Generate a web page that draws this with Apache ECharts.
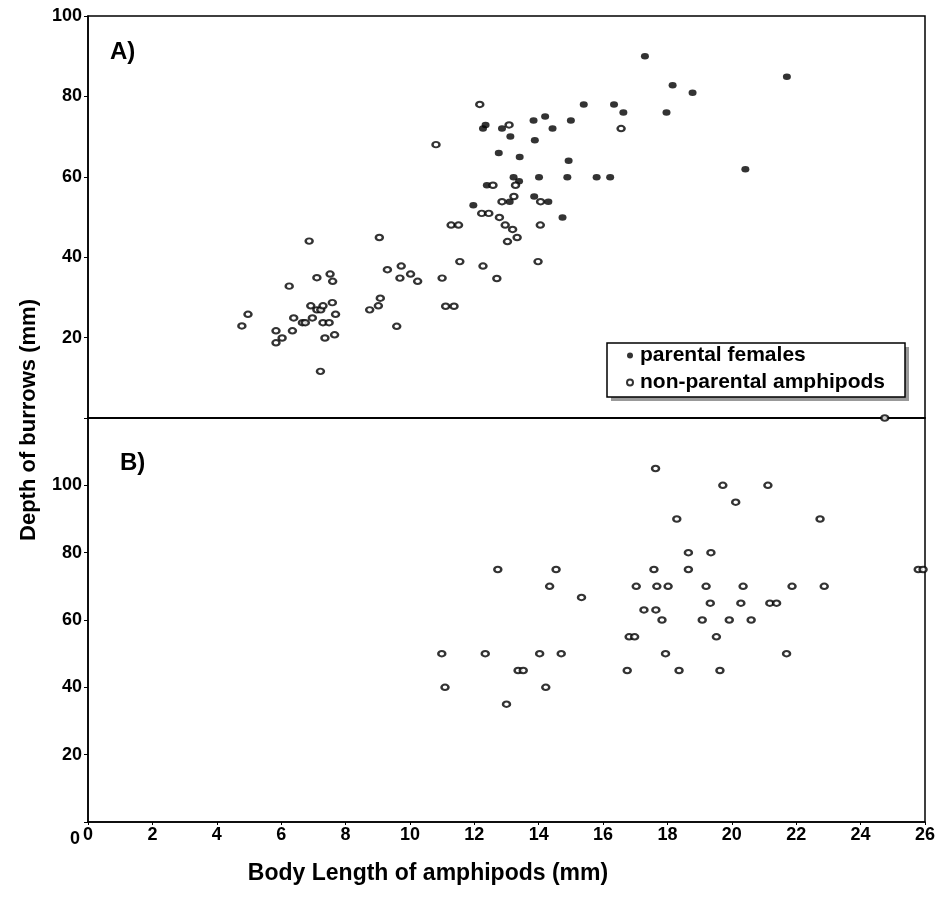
<!DOCTYPE html>
<html>
<head>
<meta charset="utf-8">
<script src="https://cdn.jsdelivr.net/npm/echarts@6/dist/echarts.min.js"></script>
<style>
  html, body { margin: 0; padding: 0; background: #fff; }
  #main { width: 939px; height: 897px; }
</style>
</head>
<body>
<div id="main"></div>
<script>
// panel A: parental females [body length mm, depth mm]
const femalesA = [
    [15.4, 78], [14.2, 75], [13.84, 74], [15.0, 74], [12.35, 72.9], [12.27, 72],
    [12.86, 72], [14.43, 72], [13.12, 70], [13.88, 69.1], [12.76, 65.9], [13.41, 64.9],
    [14.93, 64], [13.22, 59.9], [14.01, 59.9], [14.89, 59.9], [15.8, 59.9], [16.22, 59.9],
    [13.39, 58.9], [12.39, 57.9], [13.86, 55.1], [13.1, 53.8], [14.3, 53.8], [11.97, 52.9],
    [14.74, 49.9], [17.3, 90], [21.71, 84.9], [18.16, 82.8], [18.78, 80.9], [16.34, 78],
    [16.63, 76], [17.97, 76], [20.42, 61.9]
];

// panel A: non-parental amphipods
const othersA = [
    [12.17, 78], [13.08, 72.9], [10.81, 68], [16.56, 72], [12.58, 57.9], [13.28, 57.9],
    [13.23, 55.1], [12.86, 53.8], [14.06, 53.8], [12.23, 50.9], [12.45, 50.9], [12.78, 49.9],
    [11.28, 48], [11.51, 48], [12.96, 48], [14.05, 48], [13.19, 46.9], [13.33, 44.9],
    [13.03, 43.9], [11.55, 38.9], [12.27, 37.8], [13.98, 38.9], [11.0, 34.8], [12.7, 34.7],
    [9.05, 44.9], [9.3, 36.9], [9.73, 37.8], [9.69, 34.8], [10.02, 35.8], [10.24, 34],
    [9.08, 29.8], [8.75, 26.9], [9.02, 27.9], [9.59, 22.8], [11.11, 27.8], [11.37, 27.8],
    [4.97, 25.8], [4.78, 22.9], [6.87, 44], [6.25, 32.8], [7.11, 34.9], [7.52, 35.8],
    [7.6, 34], [7.59, 28.7], [6.92, 27.9], [7.11, 26.9], [7.23, 26.9], [7.3, 27.9],
    [7.69, 25.8], [6.39, 24.9], [6.97, 24.9], [6.66, 23.7], [6.75, 23.7], [7.3, 23.7],
    [7.49, 23.7], [5.84, 21.7], [6.35, 21.7], [6.03, 19.9], [5.84, 18.7], [7.36, 19.9],
    [7.66, 20.7], [7.22, 11.6]
];

// panel B
const pointsB = [
    [12.73, 75], [14.54, 75], [17.58, 75], [18.65, 75], [25.79, 75], [25.94, 75],
    [14.34, 70], [17.03, 70], [17.67, 70], [18.02, 70], [19.2, 70], [20.35, 70],
    [21.87, 70], [22.87, 70], [15.33, 66.7], [17.27, 63], [17.64, 63],
    [17.83, 60], [19.08, 60], [19.92, 60], [20.6, 60],
    [19.33, 65], [20.28, 65], [21.18, 65], [21.39, 65],
    [16.81, 55], [16.98, 55], [19.52, 55],
    [10.99, 50], [12.34, 50], [14.03, 50], [14.7, 50], [17.94, 50], [21.7, 50],
    [13.36, 45], [13.52, 45], [16.75, 45], [18.36, 45], [19.63, 45],
    [11.09, 40], [14.22, 40], [13.0, 35],
    [18.65, 80], [19.35, 80], [18.29, 90], [22.74, 90], [20.12, 95],
    [19.72, 100], [21.12, 100], [17.63, 105], [24.75, 120]
];

const xTicks = { min: 0, max: 26, interval: 2 };
const yTicksA = { min: 0, max: 100, interval: 20 };
const yTicksB = { min: 0, max: 120, interval: 20 };

const font = 'Liberation Sans, Arial, sans-serif';

const filled = {
    symbol: 'circle',
    symbolSize: [8, 6.5],
    itemStyle: { color: '#000', borderColor: '#000', borderWidth: 0 }
};
const hollow = {
    symbol: 'circle',
    symbolSize: [7, 5.5],
    itemStyle: { color: '#fff', borderColor: '#000', borderWidth: 2.2 }
};

function yAxis(idx, t, hideTop) {
    return {
        type: 'value', gridIndex: idx,
        min: t.min, max: t.max, interval: t.interval,
        axisLine: { show: true, lineStyle: { color: '#000', width: 1.5 } },
        axisTick: { show: true, length: 4, lineStyle: { color: '#000' } },
        splitLine: { show: false },
        axisLabel: {
            color: '#000', fontFamily: font, fontWeight: 'bold', fontSize: 18, margin: 6,
            formatter: v => (v === 0 || (hideTop && v === t.max)) ? '' : String(v)
        }
    };
}

const chart = echarts.init(document.getElementById('main'));
chart.setOption({
    animation: false,
    backgroundColor: '#fff',
    grid: [
        { left: 88, top: 16, width: 837, height: 402, show: true, borderColor: '#000', borderWidth: 1.5 },
        { left: 88, top: 418, width: 837, height: 404, show: true, borderColor: '#000', borderWidth: 1.5 }
    ],
    xAxis: [
        {
            type: 'value', gridIndex: 0, min: xTicks.min, max: xTicks.max, interval: xTicks.interval,
            axisLine: { show: true, lineStyle: { color: '#000', width: 1.5 } },
            axisTick: { show: false }, axisLabel: { show: false }, splitLine: { show: false }
        },
        {
            type: 'value', gridIndex: 1, min: xTicks.min, max: xTicks.max, interval: xTicks.interval,
            axisLine: { show: true, lineStyle: { color: '#000', width: 1.5 } },
            axisTick: { show: true, length: 3, lineStyle: { color: '#000' } },
            splitLine: { show: false },
            axisLabel: { color: '#000', fontFamily: font, fontWeight: 'bold', fontSize: 18, margin: 4 }
        }
    ],
    yAxis: [yAxis(0, yTicksA, false), yAxis(1, yTicksB, true)],
    legend: {
        data: ['parental females', 'non-parental amphipods'],
        orient: 'vertical',
        left: 607, top: 343,
        padding: [2, 20, 4, 19],
        itemGap: 6,
        itemWidth: 6, itemHeight: 6,
        backgroundColor: '#fff',
        borderColor: '#000', borderWidth: 1.5, borderRadius: 0,
        z: 4,
        textStyle: { color: '#000', fontFamily: font, fontWeight: 'bold', fontSize: 21, padding: [0, 0, 0, 2] }
    },
    series: [
        Object.assign({ type: 'scatter', name: 'parental females', xAxisIndex: 0, yAxisIndex: 0, data: femalesA }, filled),
        Object.assign({ type: 'scatter', name: 'non-parental amphipods', xAxisIndex: 0, yAxisIndex: 0, data: othersA }, hollow),
        Object.assign({ type: 'scatter', name: 'B', xAxisIndex: 1, yAxisIndex: 1, data: pointsB, clip: false }, hollow)
    ],
    graphic: [
        // legend drop shadow
        { type: 'rect', z: 3, shape: { x: 611, y: 347, width: 298, height: 54 }, style: { fill: '#999' } },
        { type: 'text', left: 110, top: 40, style: { text: 'A)', font: 'bold 24px ' + font, fill: '#000' } },
        { type: 'text', left: 120, top: 451, style: { text: 'B)', font: 'bold 24px ' + font, fill: '#000' } },
        { type: 'text', left: 70, top: 830, style: { text: '0', font: 'bold 18px ' + font, fill: '#000' } },
        {
            type: 'text', x: 29, y: 420, rotation: Math.PI / 2,
            style: { text: 'Depth of burrows (mm)', font: 'bold 22px ' + font, fill: '#000', align: 'center', verticalAlign: 'middle' }
        },
        {
            type: 'text', x: 428, y: 874,
            style: { text: 'Body Length of amphipods (mm)', font: 'bold 23px ' + font, fill: '#000', align: 'center', verticalAlign: 'middle' }
        }
    ]
});
</script>
</body>
</html>
